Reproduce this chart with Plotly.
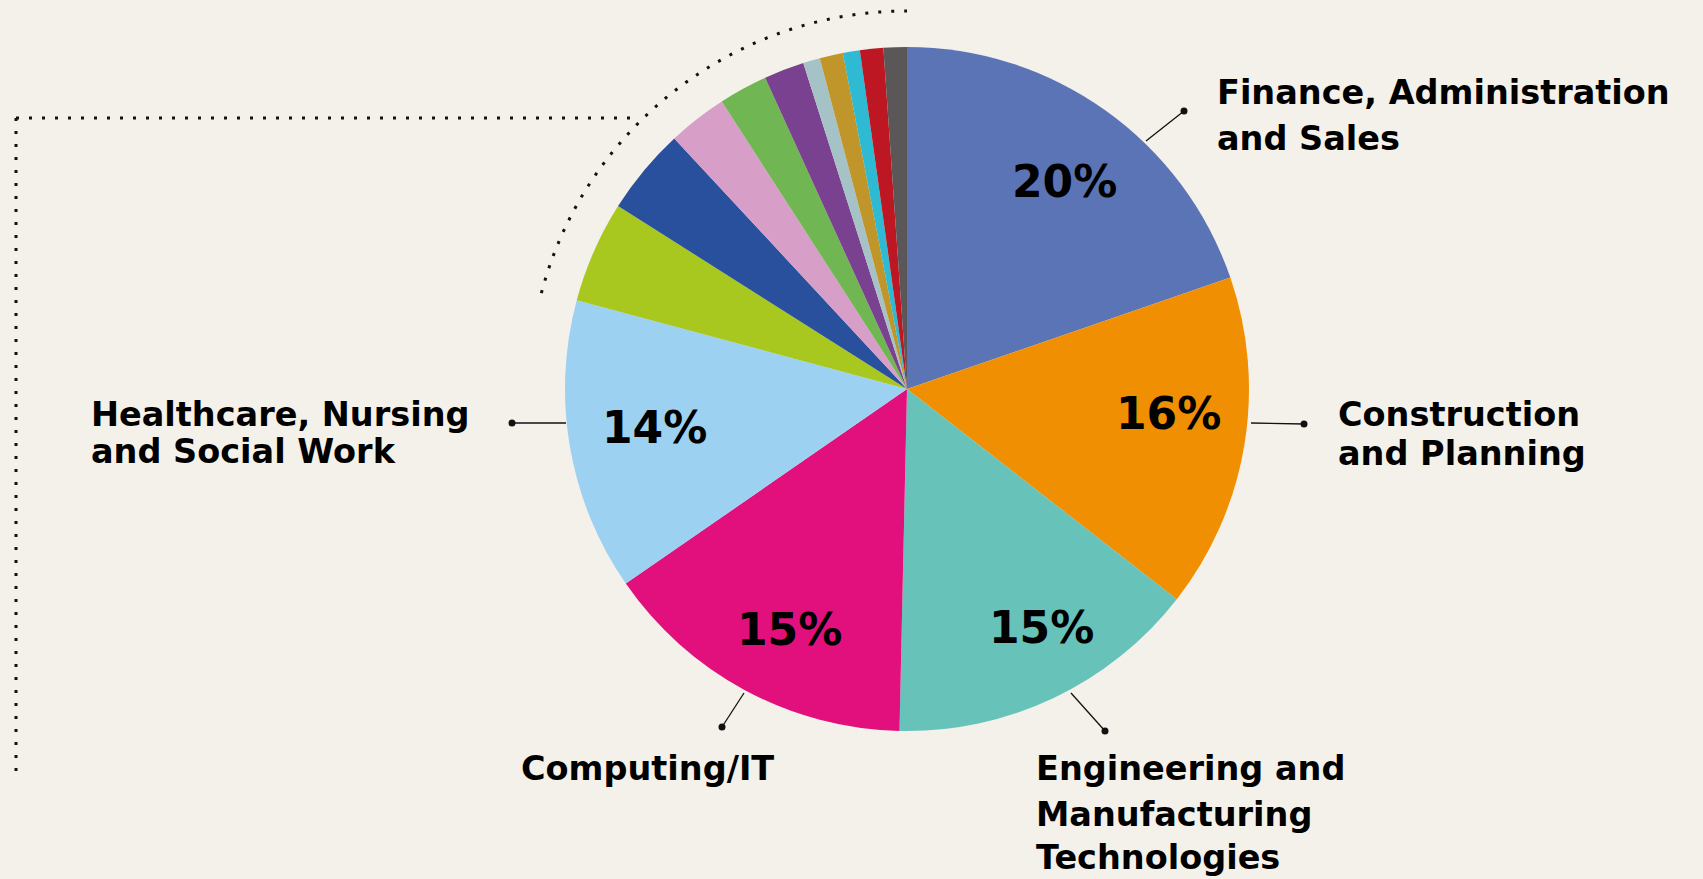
import math
import plotly.graph_objects as go

# ---------------- data ----------------
categories = [
    "Finance, Administration and Sales",
    "Construction and Planning",
    "Engineering and Manufacturing Technologies",
    "Computing/IT",
    "Healthcare, Nursing and Social Work",
    "Other 1", "Other 2", "Other 3", "Other 4", "Other 5",
    "Other 6", "Other 7", "Other 8", "Other 9", "Other 10",
]
values = [19.7, 15.8, 14.8, 15.0, 13.8, 4.8, 4.1, 2.8, 2.3, 1.9, 0.8, 1.1, 0.8, 1.1, 1.1]
colors = [
    "#5B74B6", "#F18F02", "#67C2B9", "#E2107D", "#9DD1F2",
    "#A8C71F", "#28509D", "#D79EC7", "#70B652", "#7B4191",
    "#A5C3C6", "#C0952A", "#2DBAD2", "#BD1723", "#5B5759",
]
label_lines = [
    ["Finance, Administration", "and Sales"],
    ["Construction", "and Planning"],
    ["Engineering and", "Manufacturing", "Technologies"],
    ["Computing/IT"],
    ["Healthcare, Nursing", "and Social Work"],
]

# ---------------- layout / positions (pixels) ----------------
W, H = 1703, 879
BG = "#F4F1EA"
CX, CY, R = 907, 389, 342
FONT = "DejaVu Sans"

# left x of label, and vertical centre of each text line
label_x = [1216, 1337, 1035, 520, 90]
label_line_y = [
    [92.5, 138],
    [414, 453],
    [768, 814, 857],
    [768],
    [414, 451.5],
]
pct_pos = [(1064, 181), (1168, 413), (1041, 627), (789, 629), (654, 427)]
leader_lines = [
    ((1146, 141), (1184, 111)),
    ((1251, 423), (1304, 424)),
    ((1071, 693), (1105, 731)),
    ((744, 693), (722, 727)),
    ((566, 423), (512, 423)),
]

total = sum(values)

fig = go.Figure()
fig.add_trace(go.Pie(
    labels=categories, values=values, sort=False, direction="clockwise",
    rotation=0, textinfo="none", showlegend=False,
    marker=dict(colors=colors, line=dict(width=0)),
    domain=dict(x=[(CX - R) / W, (CX + R) / W],
                y=[1 - (CY + R) / H, 1 - (CY - R) / H]),
))

# leader end dots
fig.add_trace(go.Scatter(
    x=[l[1][0] for l in leader_lines], y=[l[1][1] for l in leader_lines],
    mode="markers", marker=dict(size=7, color="#111"),
    showlegend=False, hoverinfo="skip", xaxis="x", yaxis="y",
))

shapes = []
for (a, b) in leader_lines:
    shapes.append(dict(type="line", xref="x", yref="y", x0=a[0], y0=a[1],
                       x1=b[0], y1=b[1], line=dict(color="#111", width=1.3)))

dot = dict(color="#111", width=3, dash="3px,10px")
shapes.append(dict(type="line", xref="x", yref="y", x0=16, y0=118, x1=636, y1=118, line=dot))
shapes.append(dict(type="line", xref="x", yref="y", x0=16, y0=118, x1=16, y1=776, line=dot))
# arc around the pie
RA = 378
pts = []
n = 80
a0, a1 = 284.7, 360.0
for i in range(n + 1):
    ang = math.radians(a0 + (a1 - a0) * i / n)
    pts.append((CX + RA * math.sin(ang), CY - RA * math.cos(ang)))
path = "M " + " L ".join(f"{x:.2f},{y:.2f}" for x, y in pts)
shapes.append(dict(type="path", xref="x", yref="y", path=path, line=dot))

annotations = []
for lines, x, ys in zip(label_lines, label_x, label_line_y):
    for txt, y in zip(lines, ys):
        annotations.append(dict(x=x, y=y, xref="x", yref="y", text=txt, showarrow=False,
                                xanchor="left", yanchor="middle", align="left", borderpad=0,
                                font=dict(family=FONT, size=33.5, color="#000", weight="bold")))
for v, (x, y) in zip(values[:5], pct_pos):
    annotations.append(dict(x=x, y=y, xref="x", yref="y", text=f"{round(v / total * 100)}%",
                            showarrow=False, xanchor="center", yanchor="middle",
                            font=dict(family=FONT, size=44, color="#000", weight="bold")))

fig.update_layout(
    width=W, height=H, margin=dict(l=0, r=0, t=0, b=0),
    paper_bgcolor=BG, plot_bgcolor=BG,
    xaxis=dict(range=[0, W], visible=False, domain=[0, 1], fixedrange=True),
    yaxis=dict(range=[H, 0], visible=False, domain=[0, 1], fixedrange=True),
    shapes=shapes, annotations=annotations,
)
fig.write_html("out.html", config={"displayModeBar": False},
               post_script="document.body.style.margin='0';document.body.style.overflow='hidden';")
